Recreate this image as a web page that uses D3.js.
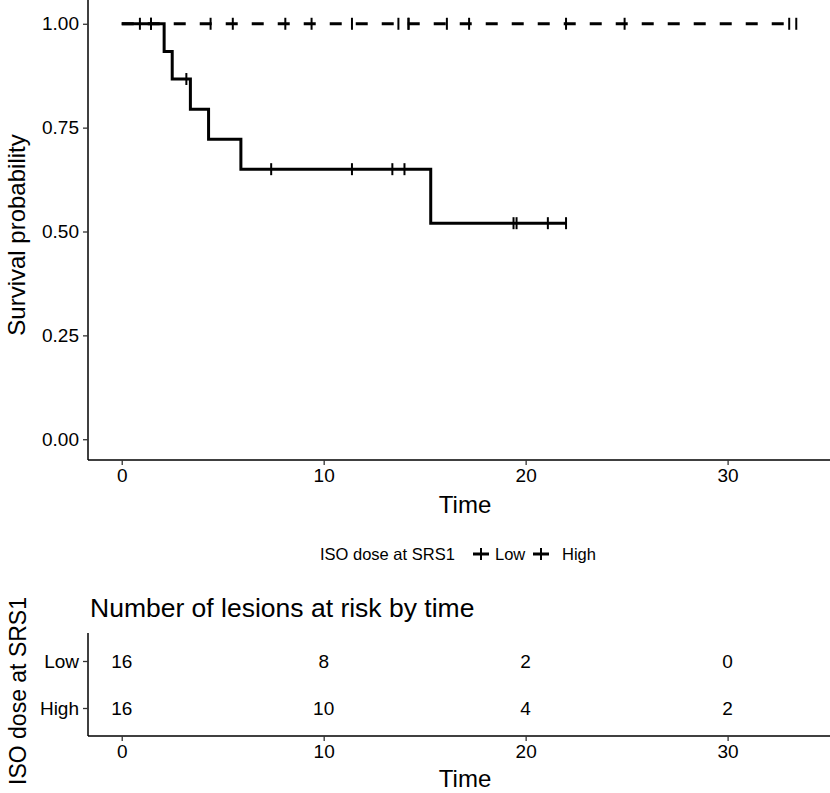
<!DOCTYPE html>
<html lang="en">
<head>
<meta charset="UTF-8"/>
<title>Survival by ISO dose</title>
<script src="https://d3js.org/d3.v7.min.js"></script>
<style>
  body { margin: 0; background: #fff; }
  text { font-family: "Liberation Sans", Arial, sans-serif; fill: #000; }
</style>
</head>
<body>
<div id="chart"></div>
<script>
// Kaplan-Meier steps
var lowTime = [0, 2.1, 2.5, 3.4, 4.3, 5.9, 15.3, 22.0];
var lowSurv = [1, 0.933, 0.867, 0.794, 0.722, 0.650, 0.520, 0.520];
var lowCensor = [1.45, 3.2, 7.4, 11.4, 13.4, 14.0, 19.4, 19.55, 21.1, 22.0];

var highTime = [0, 33.4];
var highSurv = [1, 1];
var highCensor = [0.9, 1.45, 4.4, 5.5, 8.1, 9.4, 11.4, 13.7, 14.2, 14.2,
                  16.1, 17.2, 22.0, 24.9, 33.05, 33.4];

var groups = ["Low", "High"];
var xTicks = [0, 10, 20, 30];
var yTicks = [0, 0.25, 0.5, 0.75, 1];

// number at risk table
var riskTimes = [0, 10, 20, 30];
var riskLow = [16, 8, 2, 0];
var riskHigh = [16, 10, 4, 2];

var w = 830, h = 793;
var left = 88, right = 830;

var svg = d3.select("#chart").append("svg")
    .attr("width", w)
    .attr("height", h);

var x = d3.scaleLinear().domain([-1.67, 35.07]).range([left, right]);
var y = d3.scaleLinear().domain([-0.05, 1.05]).range([460, 3]);

// step lookup for censor marks
function survAt(times, surv, t) {
    var s = surv[0];
    for (var i = 0; i < times.length; i++) {
        if (times[i] <= t) s = surv[i];
    }
    return s;
}

// axes of the survival plot
var xAxis = svg.append("g")
    .attr("transform", "translate(0,460)")
    .call(d3.axisBottom(x).tickValues(xTicks).tickSize(5).tickSizeOuter(0).tickPadding(4));
var yAxis = svg.append("g")
    .attr("transform", "translate(" + left + ",0)")
    .call(d3.axisLeft(y).tickValues(yTicks).tickFormat(d3.format(".2f")).tickSize(5).tickSizeOuter(0).tickPadding(4));

[xAxis, yAxis].forEach(function(a) {
    a.selectAll("path").attr("stroke", "#000").attr("stroke-width", 1.5);
    a.selectAll("line").attr("stroke", "#333").attr("stroke-width", 1.3);
    a.selectAll("text").attr("font-size", 19).attr("fill", "#222")
        .style("font-family", "Liberation Sans, Arial, sans-serif");
});
xAxis.select(".domain").attr("d", "M" + left + ",0H" + right);
yAxis.select(".domain").attr("d", "M0,0V460");

svg.append("text")
    .attr("x", x(17)).attr("y", 513)
    .attr("text-anchor", "middle")
    .attr("font-size", 24)
    .text("Time");

svg.append("text")
    .attr("transform", "translate(25,235) rotate(-90)")
    .attr("text-anchor", "middle")
    .attr("font-size", 24)
    .text("Survival probability");

// curves
var line = d3.line()
    .x(function(d) { return x(d[0]); })
    .y(function(d) { return y(d[1]); })
    .curve(d3.curveStepAfter);

var lowPts = lowTime.map(function(t, i) { return [t, lowSurv[i]]; });
var highPts = highTime.map(function(t, i) { return [t, highSurv[i]]; });

svg.append("path")
    .datum(lowPts)
    .attr("d", line)
    .attr("fill", "none")
    .attr("stroke", "#000")
    .attr("stroke-width", 3);

svg.append("path")
    .datum(highPts)
    .attr("d", line)
    .attr("fill", "none")
    .attr("stroke", "#000")
    .attr("stroke-width", 3)
    .attr("stroke-dasharray", "12,14");

// censor ticks
svg.selectAll(".cens-low")
    .data(lowCensor)
    .enter()
    .append("line")
    .attr("x1", function(d) { return x(d); })
    .attr("x2", function(d) { return x(d); })
    .attr("y1", function(d) { return y(survAt(lowTime, lowSurv, d)) - 6; })
    .attr("y2", function(d) { return y(survAt(lowTime, lowSurv, d)) + 6; })
    .attr("stroke", "#000")
    .attr("stroke-width", 2);

svg.selectAll(".cens-high")
    .data(highCensor)
    .enter()
    .append("line")
    .attr("x1", function(d) { return x(d); })
    .attr("x2", function(d) { return x(d); })
    .attr("y1", function(d) { return y(survAt(highTime, highSurv, d)) - 6; })
    .attr("y2", function(d) { return y(survAt(highTime, highSurv, d)) + 6; })
    .attr("stroke", "#000")
    .attr("stroke-width", 2);

// legend
var legY = 554;
svg.append("text")
    .attr("x", 320).attr("y", legY + 6)
    .attr("font-size", 16.5)
    .text("ISO dose at SRS1");

var keyX = [473, 533];
var keyLabX = [495, 562];
groups.forEach(function(g, i) {
    svg.append("line")
        .attr("x1", keyX[i]).attr("x2", keyX[i] + 16)
        .attr("y1", legY).attr("y2", legY)
        .attr("stroke", "#000").attr("stroke-width", 3);
    svg.append("line")
        .attr("x1", keyX[i] + 8).attr("x2", keyX[i] + 8)
        .attr("y1", legY - 6).attr("y2", legY + 6)
        .attr("stroke", "#000").attr("stroke-width", 2);
    svg.append("text")
        .attr("x", keyLabX[i]).attr("y", legY + 6)
        .attr("font-size", 16.5)
        .text(g);
});

// risk table
svg.append("text")
    .attr("x", 90).attr("y", 617)
    .attr("font-size", 26.5)
    .text("Number of lesions at risk by time");

var ty = d3.scalePoint().domain(groups).range([661, 708]);

var tAxisX = svg.append("g")
    .attr("transform", "translate(0,736)")
    .call(d3.axisBottom(x).tickValues(xTicks).tickSize(5).tickSizeOuter(0).tickPadding(4));
var tAxisY = svg.append("g")
    .attr("transform", "translate(" + left + ",0)")
    .call(d3.axisLeft(ty).tickSize(5).tickSizeOuter(0).tickPadding(4));

[tAxisX, tAxisY].forEach(function(a) {
    a.selectAll("path").attr("stroke", "#000").attr("stroke-width", 1.5);
    a.selectAll("line").attr("stroke", "#333").attr("stroke-width", 1.3);
    a.selectAll("text").attr("font-size", 19).attr("fill", "#222")
        .style("font-family", "Liberation Sans, Arial, sans-serif");
});
tAxisX.select(".domain").attr("d", "M" + left + ",0H" + right);
tAxisY.select(".domain").attr("d", "M0,633V736");

var rows = [riskLow, riskHigh];
groups.forEach(function(g, i) {
    svg.selectAll(".risk-" + g)
        .data(riskTimes)
        .enter()
        .append("text")
        .attr("x", function(d) { return x(d); })
        .attr("y", ty(g))
        .attr("dy", "0.35em")
        .attr("text-anchor", "middle")
        .attr("font-size", 19)
        .text(function(d, j) { return rows[i][j]; });
});

svg.append("text")
    .attr("x", x(17)).attr("y", 787)
    .attr("text-anchor", "middle")
    .attr("font-size", 24)
    .text("Time");

svg.append("text")
    .attr("transform", "translate(26,691) rotate(-90)")
    .attr("text-anchor", "middle")
    .attr("font-size", 23)
    .text("ISO dose at SRS1");
</script>
</body>
</html>
